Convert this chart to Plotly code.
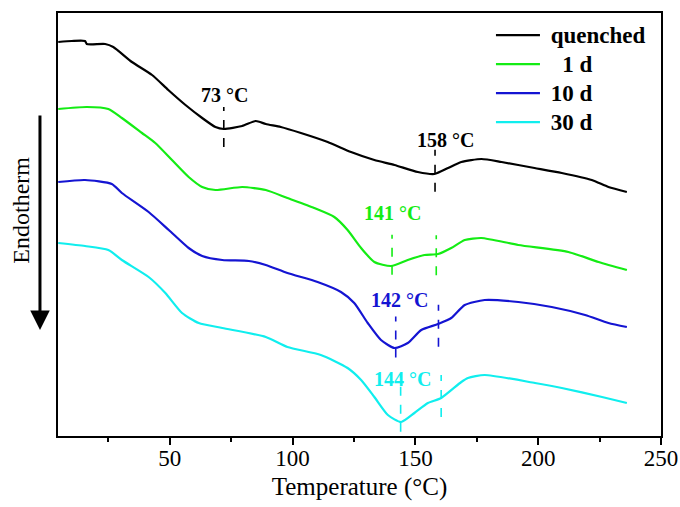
import numpy as np
import plotly.graph_objects as go

# ---- data ----
temp_quenched = [4.6, 10.1, 15.5, 16.2, 23.7, 27.0, 34.6, 42.8, 49.4, 56.4, 63.2, 68.6, 72.0, 79.5, 85.0,
                 89.1, 95.2, 103.4, 114.3, 123.8, 133.3, 141.5, 151.0, 157.8, 163.3, 168.7, 176.9,
                 185.1, 198.5, 209.6, 221.8, 228.6, 236.1]
hf_quenched = [3.94, 3.95, 3.95, 3.92, 3.92, 3.89, 3.74, 3.61, 3.46, 3.31, 3.18, 3.09, 3.07, 3.10, 3.15,
               3.12, 3.09, 3.03, 2.94, 2.84, 2.76, 2.71, 2.64, 2.62, 2.68, 2.74, 2.77,
               2.74, 2.68, 2.63, 2.56, 2.49, 2.44]

temp_1d = [4.6, 16.2, 25.0, 30.5, 38.7, 44.1, 50.9, 57.7, 63.2, 68.6, 79.5, 89.1, 97.9, 108.8, 117.0,
           122.4, 127.9, 133.3, 140.1, 146.9, 153.7, 159.2, 164.6, 170.1, 176.9, 191.9, 212.3, 224.6, 236.1]
hf_1d = [3.27, 3.29, 3.27, 3.18, 3.03, 2.93, 2.76, 2.59, 2.49, 2.46, 2.49, 2.46, 2.38, 2.28, 2.19,
         2.06, 1.88, 1.74, 1.70, 1.76, 1.81, 1.82, 1.88, 1.96, 1.98, 1.91, 1.84, 1.74, 1.66]

temp_10d = [4.6, 15.5, 26.4, 30.5, 41.4, 49.6, 57.7, 63.2, 71.4, 82.2, 89.1, 97.9, 110.2, 119.7, 125.1,
            130.6, 136.0, 141.5, 146.9, 152.4, 159.2, 164.6, 170.1, 178.2, 191.9, 205.5, 219.1, 228.6, 236.1]
hf_10d = [2.54, 2.56, 2.52, 2.43, 2.24, 2.06, 1.88, 1.80, 1.76, 1.75, 1.71, 1.63, 1.54, 1.44, 1.33,
          1.13, 0.96, 0.88, 0.93, 1.06, 1.12, 1.18, 1.31, 1.36, 1.34, 1.29, 1.21, 1.13, 1.09]

temp_30d = [4.6, 15.5, 25.0, 30.5, 41.4, 48.2, 55.0, 61.8, 71.4, 89.1, 97.9, 111.5, 122.4, 127.9, 133.3,
            138.8, 144.2, 149.6, 155.1, 160.5, 168.7, 171.4, 178.2, 198.7, 209.6, 226.0, 236.1]
hf_30d = [1.93, 1.90, 1.86, 1.76, 1.59, 1.43, 1.23, 1.13, 1.08, 0.99, 0.89, 0.81, 0.68, 0.56, 0.39,
          0.21, 0.14, 0.23, 0.33, 0.38, 0.54, 0.58, 0.61, 0.53, 0.48, 0.39, 0.33]

series_names = ["quenched", "\u00a0\u00a01 d", "10 d", "30 d"]
series_colors = ["#000000", "#14ec14", "#1414d2", "#10eeee"]

# peak temperatures marked with dashed lines
peak_series = [0, 0, 1, 1, 2, 2, 3, 3]
peak_temps = [72.0, 158.0, 140.5, 158.5, 142.0, 159.4, 144.0, 160.5]
peak_labels = ["73 °C", "158 °C", "141 °C", "", "142 °C", "", "144 °C", ""]

temps = [temp_quenched, temp_1d, temp_10d, temp_30d]
hfs = [hf_quenched, hf_1d, hf_10d, hf_30d]

# ---- styling / layout helpers ----
dash_up = [0.22, 0.24, 0.31, 0.19, 0.31, 0.19, 0.47, 0.23]
dash_down = [0.18, 0.18, 0.09, 0.21, 0.10, 0.23, 0.10, 0.19]
label_pos = {0: (72.3, 3.41), 1: (162.2, 2.96), 2: (140.5, 2.235), 4: (143.6, 1.36), 6: (144.8, 0.57)}

SERIF = "Liberation Serif, Times New Roman, serif"

fig = go.Figure()
for t, h, n, c in zip(temps, hfs, series_names, series_colors):
    fig.add_trace(go.Scatter(x=t, y=h, mode="lines",
                             name='<span style="font-size:23px">\u00a0%s</span>' % n,
                             line=dict(color=c, width=2.2, shape="spline", smoothing=0.6)))

shapes = []
annotations = []
for i, (s, T) in enumerate(zip(peak_series, peak_temps)):
    yc = float(np.interp(T, temps[s], hfs[s]))
    shapes.append(dict(type="line", xref="x", yref="y", x0=T, x1=T,
                       y0=yc - dash_down[i], y1=yc + dash_up[i],
                       line=dict(color=series_colors[s], width=1.6, dash="dash")))
    if peak_labels[i]:
        lx, ly = label_pos[i]
        annotations.append(dict(x=lx, y=ly, xref="x", yref="y", text="<b>%s</b>" % peak_labels[i],
                                showarrow=False, font=dict(family=SERIF, size=20, color=series_colors[s])))

# Endotherm label and arrow
annotations.append(dict(x=-0.0614, y=0.535, xref="paper", yref="paper", text="Endotherm",
                        textangle=-90, showarrow=False, xanchor="center", yanchor="middle",
                        font=dict(family=SERIF, size=24, color="#000000")))
annotations.append(dict(x=-0.0299, y=0.2506, xref="paper", yref="paper", text="",
                        showarrow=True, ax=0, ay=-216, arrowhead=2, arrowsize=1.3,
                        arrowwidth=3, arrowcolor="#000000"))

fig.update_layout(
    width=680, height=507,
    margin=dict(l=58, r=19, t=13, b=71, autoexpand=False),
    paper_bgcolor="white", plot_bgcolor="white",
    font=dict(family=SERIF, color="#000000"),
    shapes=shapes, annotations=annotations,
    legend=dict(x=0.718, y=0.994, xanchor="left", yanchor="top",
                bgcolor="rgba(0,0,0,0)", borderwidth=0,
                font=dict(family=SERIF, size=20, color="#000000", weight="bold"),
                itemwidth=44),
    xaxis=dict(range=[4.5, 250], showgrid=False, zeroline=False, automargin=False,
               showline=True, linewidth=2, linecolor="#000000", mirror=True,
               ticks="outside", ticklen=7, tickwidth=2, tickcolor="#000000",
               tickvals=[50, 100, 150, 200, 250], ticklabelstandoff=-7,
               minor=dict(tickvals=[25, 75, 125, 175, 225], ticks="outside", ticklen=4,
                          tickwidth=2, tickcolor="#000000"),
               tickfont=dict(family=SERIF, size=23),
               title=dict(text="Temperature (°C)", font=dict(family=SERIF, size=25), standoff=8)),
    yaxis=dict(range=[0, 4.23], showgrid=False, zeroline=False, showticklabels=False,
               automargin=False, ticks="", showline=True, linewidth=2,
               linecolor="#000000", mirror=True),
)

fig.write_html("out.html")
